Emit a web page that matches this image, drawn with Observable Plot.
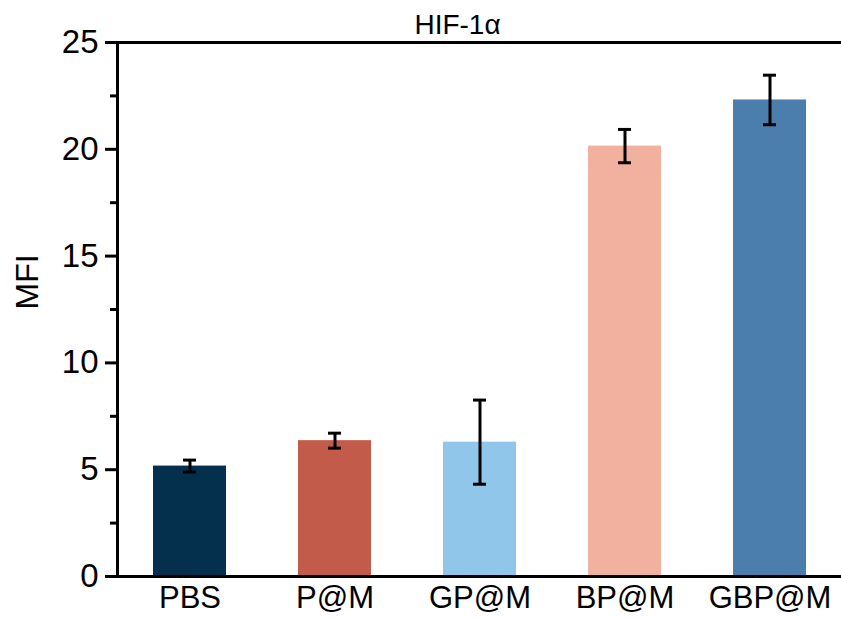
<!DOCTYPE html>
<html>
<head>
<meta charset="utf-8">
<script src="https://cdn.jsdelivr.net/npm/d3@7"></script>
<script src="https://cdn.jsdelivr.net/npm/@observablehq/plot@0.6"></script>
<style>
  html, body { margin: 0; padding: 0; background: #fff; }
  svg { font-family: "Liberation Sans", Arial, sans-serif; }
</style>
</head>
<body>
<div id="chart"></div>
<script>
const title = "HIF-1α";
const yLabel = "MFI";
const groups = ["PBS", "P@M", "GP@M", "BP@M", "GBP@M"];
const means = [5.17, 6.36, 6.29, 20.15, 22.31];
const errors = [0.28, 0.35, 1.97, 0.78, 1.16];
const colors = ["#05304d", "#c25b4a", "#8fc6ea", "#f2b09f", "#4b7eac"];
const majorTicks = [0, 5, 10, 15, 20, 25];
const minorTicks = [2.5, 7.5, 12.5, 17.5, 22.5];

const data = groups.map((g, i) => ({
  group: g, mean: means[i], lo: means[i] - errors[i], hi: means[i] + errors[i], color: colors[i]
}));

const chart = Plot.plot({
  width: 841,
  height: 619,
  marginLeft: 117,
  marginRight: 0,
  marginTop: 42,
  marginBottom: 43,
  style: { fontFamily: '"Liberation Sans", Arial, sans-serif', color: "#000", background: "#fff" },
  x: { domain: groups, paddingInner: 0.5, paddingOuter: 0.24, label: null },
  y: { domain: [0, 25], label: null },
  marks: [
    Plot.barY(data, { x: "group", y: "mean", fill: "color" }),
    Plot.ruleX(data, { x: "group", y1: "lo", y2: "hi", stroke: "#000", strokeWidth: 3 }),
    Plot.tickY(data, { x: "group", y: "hi", insetLeft: 30, insetRight: 30, stroke: "#000", strokeWidth: 3 }),
    Plot.tickY(data, { x: "group", y: "lo", insetLeft: 30, insetRight: 30, stroke: "#000", strokeWidth: 3 }),
    Plot.ruleY([0], { stroke: "#000", strokeWidth: 3 }),
    Plot.ruleY([25], { stroke: "#000", strokeWidth: 3 }),
    Plot.frame({ anchor: "left", stroke: "#000", strokeWidth: 3 }),
    Plot.axisY({ ticks: majorTicks, tickSize: 12, tickPadding: 7, fontSize: 33, strokeWidth: 3, label: null }),
    Plot.axisY({ ticks: minorTicks, tickSize: 7, text: null, strokeWidth: 3, label: null }),
    Plot.axisX({ tickSize: 0, tickPadding: 9, fontSize: 31, label: null }),
    Plot.text([yLabel], { frameAnchor: "left", dx: -90, rotate: -90, fontSize: 32, fill: "#000", lineAnchor: "middle" }),
    Plot.text([title], { frameAnchor: "top-left", dx: 340, dy: -17, fontSize: 28, fill: "#000", textAnchor: "middle", lineAnchor: "middle" })
  ]
});
document.getElementById("chart").appendChild(chart);
</script>
</body>
</html>
